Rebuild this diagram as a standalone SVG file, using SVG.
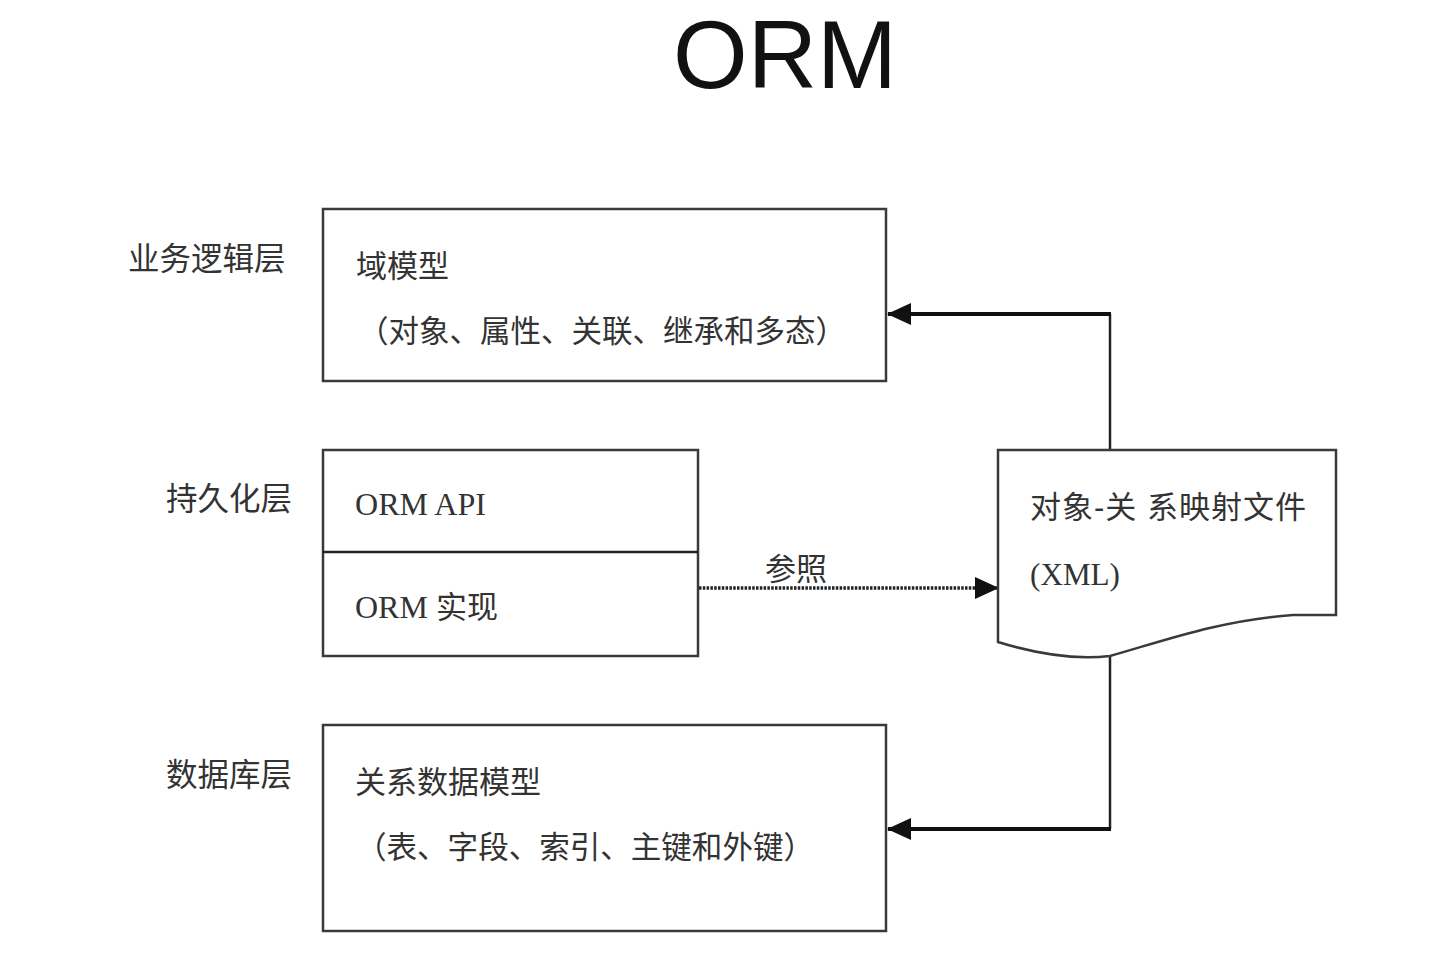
<svg xmlns="http://www.w3.org/2000/svg" width="1434" height="976" viewBox="0 0 1434 976">
<defs>
<style>
.box{fill:#fff;stroke:#3a3a3a;stroke-width:2.5}
.cjk{font-family:"Liberation Sans","Noto Sans CJK SC",sans-serif;font-size:31px;fill:#333}
.lbl{font-size:31.5px}
.ser{font-family:"Liberation Serif","Noto Sans CJK SC",serif;font-size:32px;fill:#333}
.conn{fill:none;stroke:#111;stroke-width:4}
.thin{fill:none;stroke:#222;stroke-width:2.5}
.dot{fill:none;stroke:#222;stroke-width:3.5;stroke-dasharray:2.5 1.3}
</style>
<marker id="ah" viewBox="0 0 24 24" refX="23" refY="12" markerWidth="24" markerHeight="24" markerUnits="userSpaceOnUse" orient="auto">
<path d="M0,1 L24,12 L0,23 Z" fill="#111"/>
</marker>
</defs>
<rect width="1434" height="976" fill="#fff"/>
<text x="785" y="88" text-anchor="middle" font-family="Liberation Sans, Arial, sans-serif" font-size="96" fill="#111">ORM</text>

<g id="labels">
<text class="cjk lbl" x="128" y="270">业务逻辑层</text>
<text class="cjk lbl" x="166" y="510">持久化层</text>
<text class="cjk lbl" x="166" y="786">数据库层</text>
</g>

<g id="connectors">
<polyline class="thin" points="1110,450 1110,314"/>
<line class="conn" x1="1111" y1="314" x2="888" y2="314" marker-end="url(#ah)"/>
<polyline class="thin" points="1110,657 1110,829"/>
<line class="conn" x1="1111" y1="829" x2="888" y2="829" marker-end="url(#ah)"/>
<line class="dot" x1="699" y1="588" x2="998" y2="588" marker-end="url(#ah)"/>
<text class="cjk" x="765" y="580">参照</text>
</g>

<g id="domain-model">
<rect class="box" x="323" y="209" width="563" height="172"/>
<text class="cjk" x="356" y="277">域模型</text>
<text class="cjk" x="358" y="342" textLength="488" lengthAdjust="spacingAndGlyphs">（对象、属性、关联、继承和多态）</text>
</g>

<g id="persistence">
<rect class="box" x="323" y="450" width="375" height="206"/>
<line class="thin" x1="323" y1="552" x2="698" y2="552"/>
<text class="ser" x="355" y="515" textLength="131" lengthAdjust="spacingAndGlyphs">ORM API</text>
<text class="ser" x="355" y="618">ORM <tspan class="cjk" style="font-size:31px">实现</tspan></text>
</g>

<g id="mapping-file">
<path class="box" d="M998,450 L1336,450 L1336,615 L1293,615 C1220,620 1160,642 1110,656 C1075,660 1040,655 998,642 Z"/>
<text class="cjk" x="1030" y="518" textLength="276" lengthAdjust="spacing">对象-关 系映射文件</text>
<text class="ser" x="1030" y="585" textLength="90" lengthAdjust="spacingAndGlyphs">(XML)</text>
</g>

<g id="relational-model">
<rect class="box" x="323" y="725" width="563" height="206"/>
<text class="cjk" x="355" y="793">关系数据模型</text>
<text class="cjk" x="356" y="858" textLength="458" lengthAdjust="spacingAndGlyphs">（表、字段、索引、主键和外键）</text>
</g>
</svg>
